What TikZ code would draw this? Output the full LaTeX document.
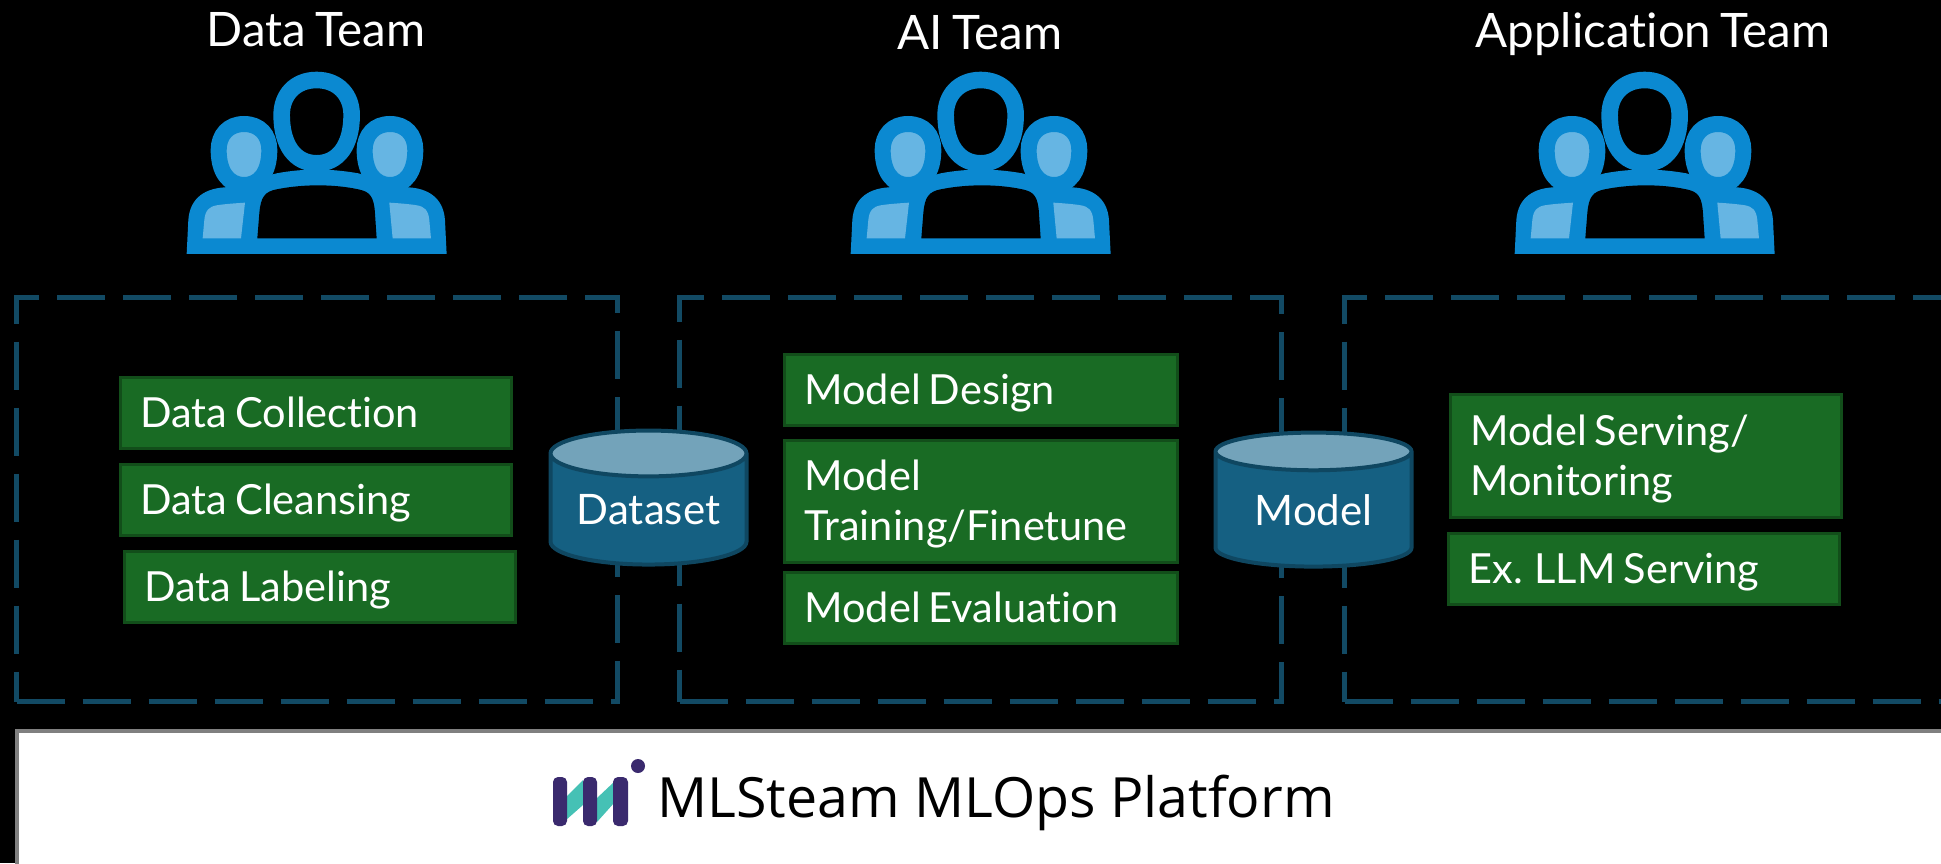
\documentclass[tikz,border=0pt]{standalone}
\usepackage{fontspec}
\setmainfont{Lato}[WordSpace=0.75, RawFeature=-liga]
\newfontfamily\platformfont{Open Sans}
\usetikzlibrary{positioning, shapes.geometric}

\definecolor{iconblue}{HTML}{0B89D1}
\definecolor{iconlight}{HTML}{66B5E3}
\definecolor{dashblue}{HTML}{124A64}
\definecolor{stepgreen}{HTML}{196B24}
\definecolor{stepedge}{HTML}{124E1A}
\definecolor{storebody}{HTML}{156082}
\definecolor{storeedge}{HTML}{0F4761}
\definecolor{storetop}{HTML}{73A3BA}
\definecolor{logopurple}{HTML}{3A2A6E}
\definecolor{logoteal}{HTML}{45C1B5}

\newcommand{\stepstrut}{\rule[-8pt]{0pt}{44.5pt}}

\tikzset{
  teamlabel/.style={text=white, anchor=base, font=\fontsize{47.5}{54}\selectfont},
  teambox/.style={draw=dashblue, line width=5pt, dash pattern=on 48pt off 18pt, anchor=north west, inner sep=0pt},
  stepbox/.style={draw=stepedge, line width=3pt, fill=stepgreen, text=white, anchor=north west,
    minimum height=#1, text width=351pt, inner xsep=20pt, inner ysep=0pt, align=flush left,
    font=\fontsize{41.5}{50}\selectfont, execute at begin node=\stepstrut, execute at end node=\stepstrut},
  stepbox/.default=71pt,
  storage/.style={cylinder, shape border rotate=90, shape aspect=0.32, draw=storeedge, line width=4pt,
    cylinder uses custom fill, cylinder body fill=storebody, cylinder end fill=storetop,
    minimum width=196pt, minimum height=134pt, inner sep=0pt, text=white,
    font=\fontsize{42}{50}\selectfont},
  pics/teamicon/.style={code={
    \begin{scope}[x=0.3333pt, y=-0.3333pt]
      \fill[iconblue] (50,612) -- (55,510) .. controls (60,440) and (110,415) .. (165,412)
        -- (320,370) .. controls (400,355) and (480,355) .. (565,370) -- (715,412)
        .. controls (770,415) and (820,440) .. (825,510) -- (830,612) -- cycle;
      \draw[iconblue, fill=iconlight, line width=16pt] (222,222) .. controls (270,222) and (298,255) .. (298,300)
        .. controls (298,365) and (270,405) .. (222,405) .. controls (175,405) and (146,365) .. (146,300)
        .. controls (146,255) and (175,222) .. (222,222) -- cycle;
      \draw[iconblue, fill=iconlight, line width=16pt] (660,222) .. controls (708,222) and (736,255) .. (736,300)
        .. controls (736,365) and (708,405) .. (660,405) .. controls (613,405) and (584,365) .. (584,300)
        .. controls (584,255) and (613,222) .. (660,222) -- cycle;
      \draw[iconblue, fill=black, line width=16.6pt] (440,90) .. controls (505,90) and (545,135) .. (545,195)
        .. controls (545,285) and (505,340) .. (440,340) .. controls (375,340) and (335,285) .. (335,195)
        .. controls (335,135) and (375,90) .. (440,90) -- cycle;
      \fill[black] (262,565) -- (268,490) .. controls (272,440) and (285,425) .. (320,418)
        .. controls (400,402) and (490,402) .. (565,418) .. controls (600,425) and (612,440) .. (615,490)
        -- (620,565) -- cycle;
      \fill[iconlight] (98,565) -- (103,510) .. controls (106,480) and (118,470) .. (140,466)
        .. controls (165,462) and (195,460) .. (225,458) -- (213,565) -- cycle;
      \fill[iconlight] (783,565) -- (778,510) .. controls (775,480) and (763,470) .. (741,466)
        .. controls (716,462) and (690,460) .. (658,458) -- (668,565) -- cycle;
    \end{scope}
  }}
}

\begin{document}
\begin{tikzpicture}[x=1pt, y=-1pt]
  \useasboundingbox (0,0) rectangle (1941,863);
  \clip (0,0) rectangle (1941,863);
  \fill[black] (0,0) rectangle (1941,863);

  \node[teamlabel] (dataname) at (316,46) {Data Team};
  \node[teamlabel] (ainame) at (980,49) {AI Team};
  \node[teamlabel] (appname) at (1653,47) {Application Team};

  \pic (dataicon) at (170,50) {teamicon};
  \pic (aiicon) at (834,50) {teamicon};
  \pic (appicon) at (1498,50) {teamicon};

  \node[teambox, minimum width=601pt, minimum height=404pt] (databox) at (14,295) {};
  \node[teambox, minimum width=602pt, minimum height=404pt] (aibox) at (677,295) {};
  \node[teambox, minimum width=700pt, minimum height=404pt] (appbox) at (1342,295) {};

  \node[stepbox] (collect) at (119,376) {Data Collection};
  \node[stepbox] (cleanse) at (119,463) {Data Cleansing};
  \node[stepbox] (label) at (123,550) {Data Labeling};

  \node[stepbox, text width=353pt] (design) at (783,353) {Model Design};
  \node[stepbox=122pt, text width=353pt] (train) at (783,439) {Model\\Training/Finetune};
  \node[stepbox, text width=353pt] (evaluate) at (783,571) {Model Evaluation};

  \node[stepbox=123pt] (serve) at (1449,393) {Model Serving/\\Monitoring};
  \node[stepbox] (llm) at (1447,532) {Ex. LLM Serving};

  \node[storage] (dataset) at (648.5,510) {Dataset};
  \node[storage] (model) at (1313.5,510) {Model};

  \node[draw=gray, line width=4pt, fill=white, anchor=north west, minimum width=2100pt,
    minimum height=200pt] (platform) at (15,729) {};
  \node[text=black, font=\platformfont\fontsize{55.5}{64}\selectfont] (platformname) at (996,803) {MLSteam MLOps Platform};

  \fill[logoteal] (566,797) -- (583,780) -- (583,805) -- (566,820) -- cycle;
  \fill[logoteal] (597,798) -- (614,782) -- (614,803) -- (597,822) -- cycle;
  \fill[logopurple, rounded corners=5pt] (553,777) rectangle (567,826);
  \fill[logopurple, rounded corners=5pt] (583,777) rectangle (597,826);
  \fill[logopurple, rounded corners=5pt] (613,777) rectangle (628,826);
  \fill[logopurple] (638,766) circle (7pt);
\end{tikzpicture}
\end{document}
